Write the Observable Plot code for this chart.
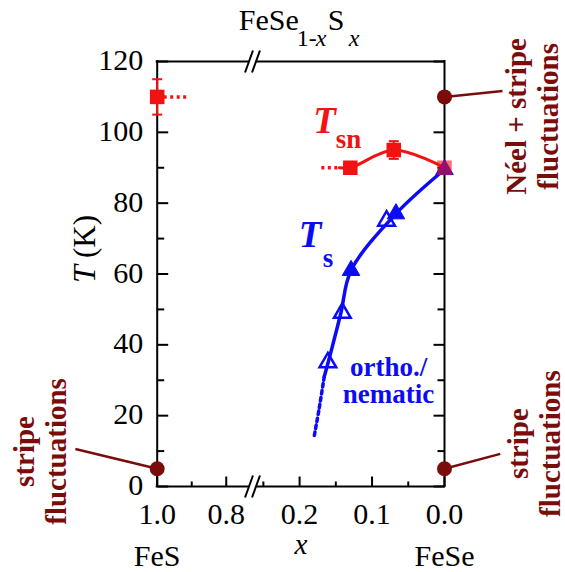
<!DOCTYPE html>
<html><head><meta charset="utf-8">
<script src="https://cdn.jsdelivr.net/npm/d3@7"></script>
<script src="https://cdn.jsdelivr.net/npm/@observablehq/plot@0.6"></script>
<style>body{margin:0;background:#fff}</style>
</head><body><div id="chart"></div>
<script>
// ---------- data ----------
const xScaleDomain = [1.0, 0.724, 0.265, 0.0];      // broken axis: left panel 1.0→0.724, right panel 0.265→0
const xScaleRange  = [156.7, 252, 252, 444];
const xBreak = [0.724];
const xMajorTicks = [1.0, 0.8, 0.2, 0.1, 0.0];
const xTickLabels = ["1.0", "0.8", "0.2", "0.1", "0.0"];
const xMinorTicks = [0.9, 0.25, 0.15, 0.05];
const yMajorTicks = [0, 20, 40, 60, 80, 100, 120];
const yMinorTicks = [10, 30, 50, 70, 90, 110];
const yFrame = [0, 120];
const endLabelX = [1.0, 0.0];
const endLabels = ["FeS", "FeSe"];

// T_sn (red squares)
const tsnX = [1.0, 0.13, 0.07];
const tsnT = [110, 90, 95];
const tsnErrLo = [105, 88.5, 92.5];
const tsnErrHi = [115, 91.5, 97.5];
const tsnFeSeX = [0.0];
const tsnFeSeT = [90];
const tsnCurveX = [0.145, 0.13, 0.07, 0.0];
const tsnCurveT = [90, 90, 95, 90];
const tsnDotFromX = [1.0, 0.17];
const tsnDotToX = [0.912, 0.145];
const tsnDotT = [110, 90];

// T_s (blue triangles)
const tsFilledX = [0.0, 0.067, 0.129];
const tsFilledT = [89.5, 77, 61];
const tsOpenX = [0.08, 0.141, 0.161];
const tsOpenT = [75, 49, 35];
const tsCurveX = [0.0, 0.067, 0.129, 0.143, 0.158, 0.166];
const tsCurveT = [89.5, 77, 61, 49, 37, 31];
const tsDottedX = [0.166, 0.173, 0.18];
const tsDottedT = [31, 22, 14];

// fluctuation annotations (dark red)
const annDotX = [1.0, 0.0, 0.0];
const annDotT = [5, 5, 110];
const annEndX = [1.237, -0.077, -0.080];
const annEndT = [10.6, 9.2, 111.7];
const annLabelX = [1.341, -0.123, -0.12];
const annLabelT = [9.9, 12.1, 104.5];
const annLabels = ["stripe\nfluctuations", "stripe\nfluctuations", "Néel + stripe\nfluctuations"];

// series labels
const serLabelX = [0.181, 0.201];
const serLabelT = [99.7, 67.5];
const serSubX = [0.150, 0.168];
const serSubT = [95.5, 62.1];
const serSub = ["sn", "s"];
const serColorIdx = [0, 1];
const phaseLabelX = [0.0772];
const phaseLabelT = [23.6];
const phaseLabels = ["ortho./\nnematic"];

// ---------- styling ----------
const RED = "#f21212", BLUE = "#0b0bf5", MAROON = "#7a0c0c";
const FONT = "'Liberation Serif', 'Times New Roman', serif";
const idx = n => d3.range(n);
const sym = f => ({draw(ctx, size) { f(ctx, Math.sqrt(size / Math.PI)); }});
const tickUp = sym((c, r) => { c.moveTo(0, 0); c.lineTo(0, -r); });
const tickRight = sym((c, r) => { c.moveTo(0, 0); c.lineTo(r, 0); });
const tickLeft = sym((c, r) => { c.moveTo(0, 0); c.lineTo(-r, 0); });
const hCap = sym((c, r) => { c.moveTo(-r, 0); c.lineTo(r, 0); });
const slashes = sym((c, r) => { const s = r * 0.36; for (const o of [-3.5, 3.5]) { c.moveTo(o - s, r); c.lineTo(o + s, -r); } });
const gap = sym((c, r) => { const h = 3, s = 0.36 * h; c.moveTo(-3.5 - s, h); c.lineTo(3.5 - s, h); c.lineTo(3.5 + s, -h); c.lineTo(-3.5 + s, -h); c.closePath(); });

const breakPts = yFrame.map(t => ({x: xBreak[0], t}));

const marks = [
  // frame
  Plot.ruleY(yFrame, {y: d => d, x1: xScaleDomain[0], x2: xScaleDomain[3], stroke: "black", strokeWidth: 2, strokeLinecap: "square"}),
  Plot.ruleX([xScaleDomain[0], xScaleDomain[3]], {x: d => d, y1: yFrame[0], y2: yFrame[1], stroke: "black", strokeWidth: 2, strokeLinecap: "square"}),
  // ticks (inward)
  Plot.dot(xMajorTicks, {x: d => d, y: 0, symbol: tickUp, r: 10, stroke: "black", strokeWidth: 2, fill: "none"}),
  Plot.dot(xMinorTicks, {x: d => d, y: 0, symbol: tickUp, r: 5, stroke: "black", strokeWidth: 2, fill: "none"}),
  Plot.dot(yMajorTicks, {x: xScaleDomain[0], y: d => d, symbol: tickRight, r: 11, stroke: "black", strokeWidth: 2, fill: "none"}),
  Plot.dot(yMinorTicks, {x: xScaleDomain[0], y: d => d, symbol: tickRight, r: 7, stroke: "black", strokeWidth: 2, fill: "none"}),
  Plot.dot(yMajorTicks, {x: xScaleDomain[3], y: d => d, symbol: tickLeft, r: 11, stroke: "black", strokeWidth: 2, fill: "none"}),
  Plot.dot(yMinorTicks, {x: xScaleDomain[3], y: d => d, symbol: tickLeft, r: 7, stroke: "black", strokeWidth: 2, fill: "none"}),
  // axis break marks
  Plot.dot(breakPts, {x: "x", y: "t", symbol: gap, r: 1, fill: "white", stroke: "none"}),
  Plot.dot(breakPts, {x: "x", y: "t", symbol: slashes, r: 11, stroke: "black", strokeWidth: 2, fill: "none"}),
  // tick labels
  Plot.text(idx(xMajorTicks.length), {x: i => xMajorTicks[i], y: 0, text: i => xTickLabels[i], dy: 37, lineAnchor: "bottom", fontSize: 30, fontFamily: FONT, fill: "black"}),
  Plot.text(yMajorTicks, {x: xScaleDomain[0], y: d => d, text: d => String(d), dx: -14, dy: -1, textAnchor: "end", lineAnchor: "middle", fontSize: 30, fontFamily: FONT, fill: "black"}),
  Plot.text(idx(endLabels.length), {x: i => endLabelX[i], y: 0, text: i => endLabels[i], dy: 79, lineAnchor: "bottom", fontSize: 30, fontFamily: FONT, fill: "black"}),
  // axis titles
  Plot.text(["x"], {frameAnchor: "bottom", dy: 67, lineAnchor: "bottom", fontSize: 29, fontStyle: "italic", fontFamily: FONT, fill: "black"}),
  Plot.text(["T"], {frameAnchor: "left", dx: -72, rotate: -90, textAnchor: "middle", lineAnchor: "middle", fontSize: 32, fontStyle: "italic", fontFamily: FONT, fill: "black"}),
  Plot.text(["(K)"], {frameAnchor: "left", dx: -72, dy: -37.5, rotate: -90, textAnchor: "middle", lineAnchor: "middle", fontSize: 31, fontFamily: FONT, fill: "black"}),
  // chart title FeSe1-xSx
  Plot.text(["FeSe"], {frameAnchor: "top", dx: -62, dy: -32, textAnchor: "start", lineAnchor: "bottom", fontSize: 30, fontFamily: FONT, fill: "black"}),
  Plot.text(["1-"], {frameAnchor: "top", dx: -4, dy: -16, textAnchor: "start", lineAnchor: "bottom", fontSize: 24, fontFamily: FONT, fill: "black"}),
  Plot.text(["x"], {frameAnchor: "top", dx: 15, dy: -16, textAnchor: "start", lineAnchor: "bottom", fontSize: 24, fontStyle: "italic", fontFamily: FONT, fill: "black"}),
  Plot.text(["S"], {frameAnchor: "top", dx: 27, dy: -32, textAnchor: "start", lineAnchor: "bottom", fontSize: 30, fontFamily: FONT, fill: "black"}),
  Plot.text(["x"], {frameAnchor: "top", dx: 48, dy: -16, textAnchor: "start", lineAnchor: "bottom", fontSize: 24, fontStyle: "italic", fontFamily: FONT, fill: "black"}),

  // T_s curve + dotted extension
  Plot.line(idx(tsCurveX.length), {x: i => tsCurveX[i], y: i => tsCurveT[i], curve: "catmull-rom", stroke: BLUE, strokeWidth: 3.5}),
  Plot.line(idx(tsDottedX.length), {x: i => tsDottedX[i], y: i => tsDottedT[i], curve: "catmull-rom", stroke: BLUE, strokeWidth: 3.5, strokeDasharray: "3.5,3.5"}),
  // T_sn curve + dotted extensions
  Plot.line(idx(tsnCurveX.length), {x: i => tsnCurveX[i], y: i => tsnCurveT[i], curve: "catmull-rom", stroke: RED, strokeWidth: 3}),
  Plot.link(idx(tsnDotFromX.length), {x1: i => tsnDotFromX[i], x2: i => tsnDotToX[i], y1: i => tsnDotT[i], y2: i => tsnDotT[i], stroke: RED, strokeWidth: 3.5, strokeDasharray: "3,3.5"}),
  // T_s markers
  Plot.dot(idx(tsFilledX.length), {x: i => tsFilledX[i], y: i => tsFilledT[i], symbol: "triangle", r: 6.5, fill: BLUE, stroke: BLUE, strokeWidth: 1}),
  Plot.dot(idx(tsOpenX.length), {x: i => tsOpenX[i], y: i => tsOpenT[i], symbol: "triangle", r: 6.2, fill: "none", stroke: BLUE, strokeWidth: 2.5}),
  // T_sn error bars + markers
  Plot.ruleX(idx(tsnX.length), {x: i => tsnX[i], y1: i => tsnErrLo[i], y2: i => tsnErrHi[i], stroke: RED, strokeWidth: 2}),
  Plot.dot(idx(tsnX.length).flatMap(i => [{x: tsnX[i], t: tsnErrLo[i]}, {x: tsnX[i], t: tsnErrHi[i]}]), {x: "x", y: "t", symbol: hCap, r: 5, stroke: RED, strokeWidth: 2, fill: "none"}),
  Plot.dot(idx(tsnX.length), {x: i => tsnX[i], y: i => tsnT[i], symbol: "square", r: 8.2, fill: RED, stroke: "none"}),
  Plot.dot(idx(tsnFeSeX.length), {x: i => tsnFeSeX[i], y: i => tsnFeSeT[i], symbol: "square", r: 8.2, fill: RED, fillOpacity: 0.6, stroke: "none"}),

  // fluctuation annotations
  Plot.link(idx(annDotX.length), {x1: i => annDotX[i], y1: i => annDotT[i], x2: i => annEndX[i], y2: i => annEndT[i], stroke: MAROON, strokeWidth: 2.5}),
  Plot.dot(idx(annDotX.length), {x: i => annDotX[i], y: i => annDotT[i], r: 7.5, fill: MAROON, stroke: "none"}),
  Plot.text(idx(annLabels.length), {x: i => annLabelX[i], y: i => annLabelT[i], text: i => annLabels[i], rotate: -90, textAnchor: "middle", lineAnchor: "middle", lineHeight: 1.1, fontSize: 29, fontWeight: "bold", fontFamily: FONT, fill: MAROON}),

  // series labels
  Plot.text(idx(serLabelX.length), {x: i => serLabelX[i], y: i => serLabelT[i], text: () => "T", textAnchor: "start", lineAnchor: "bottom", fontSize: 37, fontWeight: "bold", fontStyle: "italic", fontFamily: FONT, fill: i => [RED, BLUE][serColorIdx[i]]}),
  Plot.text(idx(serSubX.length), {x: i => serSubX[i], y: i => serSubT[i], text: i => serSub[i], textAnchor: "start", lineAnchor: "bottom", fontSize: 27, fontWeight: "bold", fontFamily: FONT, fill: i => [RED, BLUE][serColorIdx[i]]}),
  Plot.text(idx(phaseLabels.length), {x: i => phaseLabelX[i], y: i => phaseLabelT[i], text: i => phaseLabels[i], textAnchor: "middle", lineAnchor: "bottom", lineHeight: 1.0, fontSize: 27, fontWeight: "bold", fontFamily: FONT, fill: BLUE})
];

const chart = Plot.plot({
  width: 565,
  height: 572,
  marginLeft: 156.7,
  marginRight: 121,
  marginTop: 61,
  marginBottom: 86,
  style: {fontFamily: FONT, background: "white", overflow: "visible"},
  x: {type: "linear", domain: xScaleDomain, range: xScaleRange, axis: null},
  y: {domain: [0, 120], axis: null},
  color: {type: "identity"},
  marks
});
document.getElementById("chart").appendChild(chart);
</script>
</body></html>
